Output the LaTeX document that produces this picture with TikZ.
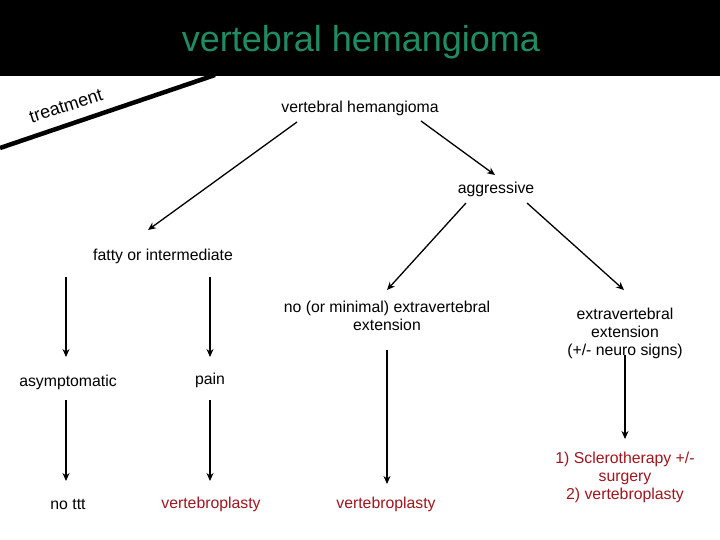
\documentclass[tikz,border=0pt]{standalone}
\usepackage{fontspec}
\setmainfont{Liberation Sans}
\usetikzlibrary{arrows.meta}
\definecolor{ttl}{HTML}{1E8C64}
\definecolor{dred}{HTML}{A0141E}
\begin{document}
\begin{tikzpicture}[x=1pt,y=-1pt,
  lbl/.style={font=\fontsize{15.8}{18}\selectfont,align=center,inner sep=0pt},
  red/.style={lbl,text=dred},
  arr/.style={-{Stealth[length=8pt,width=7pt]},line width=1.3pt}]
\useasboundingbox (0,0) rectangle (720,540);
\fill[black] (0,0) rectangle (720,76);
\node[font=\fontsize{36}{40}\selectfont,text=ttl] (title) at (361,42) {vertebral hemangioma};
\coordinate (t1) at (0,148); \coordinate (t2) at (215,75);
\draw[line width=4.5pt] (t1) -- (t2);
\node[font=\fontsize{18}{20}\selectfont,inner sep=0pt,rotate=18] (treat) at (66,106) {treatment};
\node[lbl] (vh) at (360,108) {vertebral hemangioma};
\node[lbl] (agg) at (496,189) {aggressive};
\node[lbl] (fat) at (163,256) {fatty or intermediate};
\node[lbl] (noext) at (387,316) {no (or minimal) extravertebral\\extension};
\node[lbl] (ext) at (625,333) {extravertebral\\extension\\(+/- neuro signs)};
\node[lbl] (asy) at (68,382) {asymptomatic};
\node[lbl] (pain) at (210,380) {pain};
\node[lbl] (nottt) at (68,504) {no ttt};
\node[red] (vp1) at (211,504) {vertebroplasty};
\node[red] (vp2) at (386,504) {vertebroplasty};
\node[red] (scl) at (625,477) {1) Sclerotherapy +/-\\surgery\\2) vertebroplasty};
\foreach \n/\ax/\ay/\bx/\by in {a/421/121/495/175, b/297/122/148/230, c/466/203/387/290, d/527/203/624/290,
  e/66/277/66/357, f/210/277/210/357, g/66/400/66/481, h/210/400/210/481, i/387/350/387/484, j/625/355/625/439}{
  \coordinate (s\n) at (\ax,\ay); \coordinate (e\n) at (\bx,\by);
  \draw[arr] (s\n) -- (e\n);}
\end{tikzpicture}
\end{document}
